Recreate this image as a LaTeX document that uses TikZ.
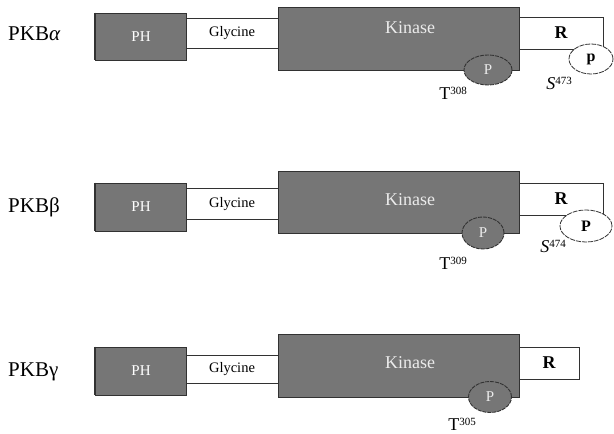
\documentclass[tikz,border=0pt]{standalone}
\usepackage{fontspec}
\setmainfont{Liberation Serif}
\definecolor{domgray}{RGB}{118,118,118}
\definecolor{edge}{RGB}{50,50,50}
\definecolor{lighttxt}{RGB}{235,235,235}
\newcommand{\fs}[1]{\fontsize{#1}{#1}\selectfont}
\newcommand{\sitelabel}[2]{#1\raisebox{5pt}{\fs{11}#2}}
\tikzset{
  x=1pt, y=-1pt,
  dombox/.style={draw=edge, line width=0.8pt, fill=domgray, inner sep=0pt, minimum height=#1},
  phbox/.style={dombox=#1, minimum width=91pt, text=white, font=\fs{15}},
  kinbox/.style={dombox=#1, minimum width=241pt},
  kintext/.style={text=lighttxt, font=\fs{18}, inner sep=0pt},
  glybox/.style={inner sep=0pt, minimum width=92pt, minimum height=#1, font=\fs{14.5}},
  glyline/.style={draw=edge, line width=0.8pt},
  rbox/.style={draw=edge, line width=0.8pt, fill=white, inner sep=0pt, minimum height=32pt, font=\bfseries\fs{18}},
  pgray/.style={ellipse, draw=edge, line width=0.9pt, dash pattern=on 4pt off 1pt, fill=domgray, inner sep=0pt, text=lighttxt, font=\fs{15}},
  pwhite/.style={ellipse, draw=edge, line width=0.8pt, dash pattern=on 5pt off 1pt, fill=white, inner sep=0pt, font=\bfseries\fs{16}},
  isoname/.style={anchor=west, inner sep=0pt, font=\fs{21}},
  site/.style={inner sep=0pt, font=\fs{18}},
}
\usetikzlibrary{shapes.geometric}
\begin{document}
\begin{tikzpicture}
\useasboundingbox (0,0) rectangle (614,434);

% ---------- PKB alpha ----------
\node[isoname] (na) at (8,34) {PKB\textit{α}};
\node[phbox=47pt] (pha) at (141,36.5) {PH};
\draw[line width=2pt, edge] (pha.north west) -- (pha.south west);
\node[glybox=29pt] (gla) at (232,33.5) {Glycine};
\draw[glyline] (gla.north west) -- (gla.north east) (gla.south west) -- (gla.south east);
\node[kinbox=63pt] (kia) at (398.5,38.5) {};
\node[kintext] (kta) at (410,28) {Kinase};
\node[rbox, minimum width=84pt] (ra) at (561,33) {R};
\node[pgray, minimum width=48pt, minimum height=30pt] (pga) at (488,70) {P};
\node[pwhite, minimum width=44pt, minimum height=30pt] (pwa) at (591,59) {p};
\node[site] (ta) at (453,93) {\sitelabel{T}{308}};
\node[site] (sa) at (559,83) {\sitelabel{\textit{S}}{473}};

% ---------- PKB beta ----------
\node[isoname] (nb) at (8,207) {PKBβ};
\node[phbox=48pt] (phb) at (141,207) {PH};
\draw[line width=2pt, edge] (phb.north west) -- (phb.south west);
\node[glybox=30pt] (glb) at (232,204) {Glycine};
\draw[glyline] (glb.north west) -- (glb.north east) (glb.south west) -- (glb.south east);
\node[kinbox=62pt] (kib) at (398.5,202) {};
\node[kintext] (ktb) at (410,200) {Kinase};
\node[rbox, minimum width=84pt] (rb) at (561,199) {R};
\node[pgray, minimum width=42pt, minimum height=32pt] (pgb) at (483,233) {P};
\node[pwhite, minimum width=52pt, minimum height=32pt] (pwb) at (586,226) {P};
\node[site] (tb) at (453,263) {\sitelabel{T}{309}};
\node[site] (sb) at (553,246) {\sitelabel{\textit{S}}{474}};

% ---------- PKB gamma ----------
\node[isoname] (nc) at (8,372) {PKBγ};
\node[phbox=48pt] (phc) at (141,371) {PH};
\draw[line width=2pt, edge] (phc.north west) -- (phc.south west);
\node[glybox=27pt] (glc) at (232,369.5) {Glycine};
\draw[glyline] (glc.north west) -- (glc.north east) (glc.south west) -- (glc.south east);
\node[kinbox=63pt] (kic) at (398.5,365.5) {};
\node[kintext] (ktc) at (410,363) {Kinase};
\node[rbox, minimum width=60pt] (rc) at (549,363) {R};
\node[pgray, minimum width=43pt, minimum height=31pt] (pgc) at (490,397) {P};
\node[site] (tc) at (462,424) {\sitelabel{T}{305}};
\end{tikzpicture}
\end{document}
